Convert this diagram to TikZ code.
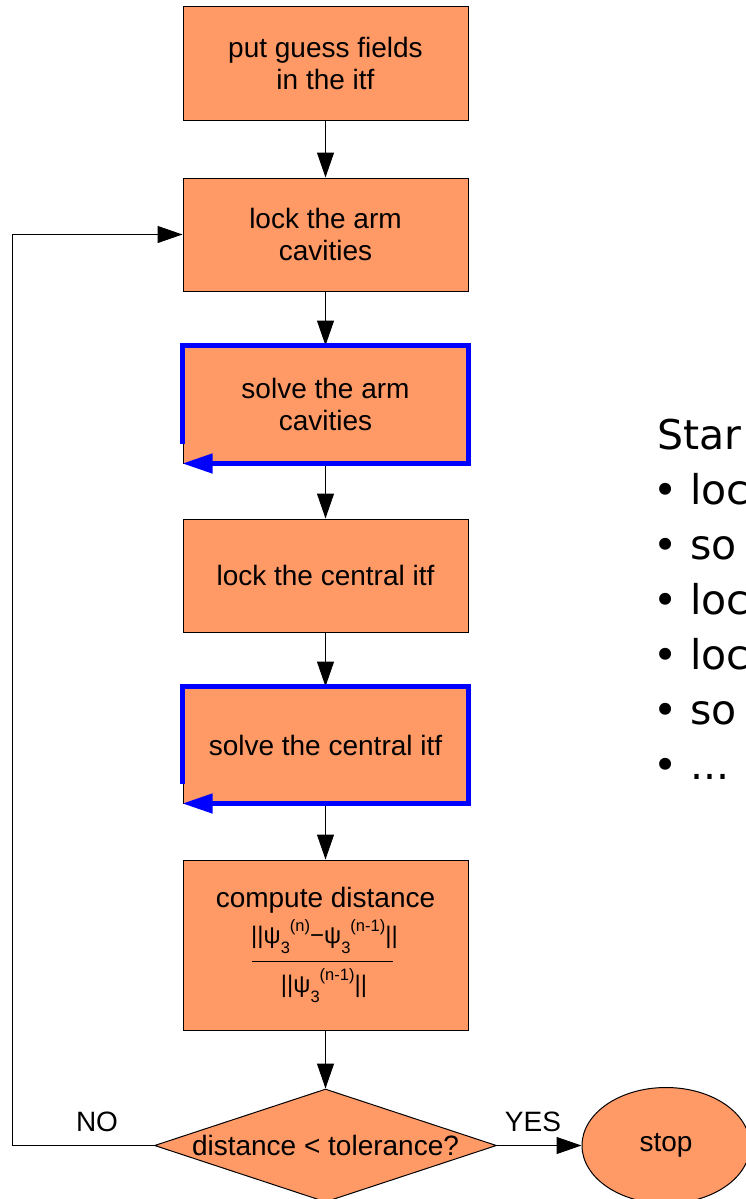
\documentclass[tikz,border=0pt]{standalone}
\usepackage{fontspec}
\setmainfont{Liberation Sans}
\newfontfamily\dejavu{DejaVu Sans}
\usetikzlibrary{arrows.meta,shapes.geometric}

\definecolor{boxfill}{RGB}{255,153,102}
\definecolor{loopblue}{RGB}{0,0,255}

\newcommand\boxfont{\fontsize{28}{32}\selectfont}
\newcommand\formfont{\fontsize{24}{27}\selectfont}
\newcommand\scrfont{\fontsize{16.5}{16.5}\selectfont}
\newcommand\sidefont{\dejavu\fontsize{41}{47}\selectfont}
% psi with subscript 3 and a following superscript
\newcommand\psiterm[1]{ψ\raisebox{-9.5pt}{\scrfont 3}\raisebox{12pt}{\scrfont (#1)}}

\begin{document}
\begin{tikzpicture}[x=1pt,y=-1pt,
  stepbox/.style={draw=black, line width=1pt, fill=boxfill, minimum width=285pt,
    minimum height=113pt, inner sep=0pt, align=center, font=\boxfont},
  flowarrow/.style={line width=1pt, -{Triangle[length=25pt,width=17pt]}},
  looparrow/.style={draw=loopblue, line width=4.5pt, line join=miter,
    -{Triangle[length=30pt,width=19pt]}},
  decision/.style={diamond, draw=black, line width=1pt, fill=boxfill,
    minimum width=342pt, minimum height=113pt, inner sep=0pt},
  terminal/.style={ellipse, draw=black, line width=1pt, fill=boxfill,
    minimum width=168pt, minimum height=116pt, inner sep=0pt, font=\boxfont},
  plain/.style={inner sep=0pt, font=\boxfont},
  sidetext/.style={inner sep=0pt, anchor=base west, font=\sidefont}]

\fill[white] (0,0) rectangle (745,1199);
\useasboundingbox (0,0) rectangle (745,1199);

% main column of steps
\node[stepbox] (b1) at (325.5,63.5) {put guess fields\\in the itf};
\node[stepbox] (b2) at (325.5,234.5) {lock the arm\\cavities};
\node[stepbox, minimum height=117pt] (b3) at (325.5,404.5) {solve the arm\\cavities};
\node[stepbox] (b4) at (325.5,575.5) {lock the central itf};
\node[stepbox, minimum height=116pt] (b5) at (325.5,745) {solve the central itf};
\node[stepbox, minimum height=170pt] (b6) at (325.5,945) {};

% content of the distance box
\node[plain, anchor=base] (cdlabel) at (325.5,907) {compute distance};
\node[plain, anchor=base, font=\formfont] (numer) at (324.5,943.5)
  {||\psiterm{n}−\psiterm{n-1}||};
\draw[line width=0.8pt] (251.5,961.5) -- (393,961.5);
\node[plain, anchor=base, font=\formfont] (denom) at (324,992.5) {||\psiterm{n-1}||};

% decision and end
\node[decision] (dec) at (325.5,1145.5) {};
\node[plain] (dectext) at (dec.center) {distance < tolerance?};
\node[terminal] (stop) at (666,1145.5) {stop};

% connectors
\draw[flowarrow] (b1) -- (b2);
\draw[flowarrow] (b2) -- (b3);
\draw[flowarrow] (b3) -- (b4);
\draw[flowarrow] (b4) -- (b5);
\draw[flowarrow] (b5) -- (b6);
\draw[flowarrow] (b6) -- (dec);
\draw[flowarrow] (dec.east) -- (stop.west);
\coordinate (loopcorner) at (12,1145.5);
\draw[flowarrow] (dec.west) -- (loopcorner) |- (b2.west);

\node[plain] (nolabel) at (97,1122) {NO};
\node[plain] (yeslabel) at (533,1122) {YES};

% inner iteration loops around the solver steps
\draw[looparrow] ([yshift=20pt]b3.south west) -- (b3.north west) -- (b3.north east)
  -- (b3.south east) -- (b3.south west);
\draw[looparrow] ([yshift=20pt]b5.south west) -- (b5.north west) -- (b5.north east)
  -- (b5.south east) -- (b5.south west);

% side list
\node[sidetext] (s0) at (657,449) {Star};
\node[sidetext] (s1) at (653,504) {• loc};
\node[sidetext] (s2) at (653,559) {• so};
\node[sidetext] (s3) at (653,614) {• loc};
\node[sidetext] (s4) at (653,669) {• loc};
\node[sidetext] (s5) at (653,724) {• so};
\node[sidetext] (s6) at (653,779) {• ...};

\end{tikzpicture}
\end{document}
